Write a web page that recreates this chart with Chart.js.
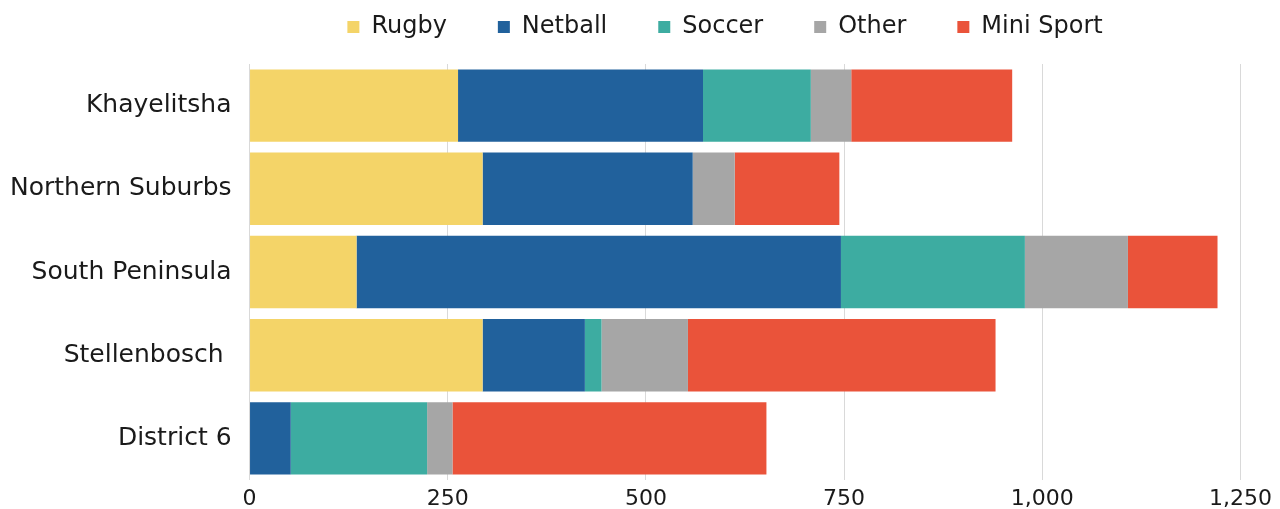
<!DOCTYPE html>
<html>
<head>
<meta charset="utf-8">
<script src="https://cdn.jsdelivr.net/npm/chart.js@4/dist/chart.umd.min.js"></script>
<style>
  html, body { margin: 0; padding: 0; background: #fff; overflow: hidden; }
  #wrap { width: 1280px; height: 509px; }
</style>
</head>
<body>
<div id="wrap"><canvas id="sportChart"></canvas></div>
<script>
const areas = ['Khayelitsha', 'Northern Suburbs', 'South Peninsula', 'Stellenbosch ', 'District 6'];
const rugby = [263, 294, 135, 294, 0];
const netball = [309, 265, 611, 129, 52];
const soccer = [136, 0, 232, 21, 172];
const other = [51, 53, 130, 109, 32];
const miniSport = [203, 132, 113, 388, 396];
const xTicks = [0, 250, 500, 750, 1000, 1250];

const fontFamily = '"DejaVu Sans", sans-serif';

function makeSet(label, data, color) {
  return {
    label: label,
    data: data,
    backgroundColor: color,
    borderWidth: 0,
    barPercentage: 0.87,
    categoryPercentage: 1.0
  };
}

// nudge the legend a bit left of the plot centre, like the original
const legendShift = {
  id: 'legendShift',
  afterLayout(chart) {
    chart.legend.left -= 20;
    chart.legend.right -= 20;
  }
};

const ctx = document.getElementById('sportChart').getContext('2d');

new Chart(ctx, {
  type: 'bar',
  data: {
    labels: areas,
    datasets: [
      makeSet('Rugby', rugby, '#F4D468'),
      makeSet('Netball', netball, '#21619C'),
      makeSet('Soccer', soccer, '#3DACA1'),
      makeSet('Other', other, '#A6A6A6'),
      makeSet('Mini Sport', miniSport, '#EA533A')
    ]
  },
  options: {
    indexAxis: 'y',
    responsive: true,
    maintainAspectRatio: false,
    animation: false,
    layout: { padding: { left: -8, right: 37, top: -36, bottom: -9 } },
    plugins: {
      legend: {
        position: 'top',
        fullSize: false,
        labels: {
          boxWidth: 12,
          boxHeight: 12,
          padding: 51,
          color: '#1a1a1a',
          font: { family: fontFamily, size: 24 }
        }
      },
      tooltip: { enabled: false }
    },
    scales: {
      x: {
        stacked: true,
        min: 0,
        max: 1250,
        afterBuildTicks: axis => { axis.ticks = xTicks.map(v => ({ value: v })); },
        grid: { color: '#d9d9d9', drawTicks: false },
        border: { display: false },
        ticks: {
          padding: 8,
          color: '#1a1a1a',
          font: { family: fontFamily, size: 22, lineHeight: 1.0 },
          callback: value => value.toLocaleString('en-US')
        }
      },
      // empty top axis, only keeps a gap under the legend
      xTop: {
        position: 'top',
        grid: { display: false, drawTicks: false },
        border: { display: false },
        ticks: { display: false },
        afterFit: scale => { scale.height = 15; }
      },
      y: {
        stacked: true,
        grid: { display: false, drawTicks: false },
        border: { display: false },
        ticks: {
          padding: 18,
          color: '#1a1a1a',
          font: { family: fontFamily, size: 25 }
        },
        // labels sit mid-category, they don't need room above/below the plot
        afterFit: scale => {
          scale.paddingTop = 0;
          scale.paddingBottom = 0;
        }
      }
    }
  },
  plugins: [legendShift]
});
</script>
</body>
</html>
